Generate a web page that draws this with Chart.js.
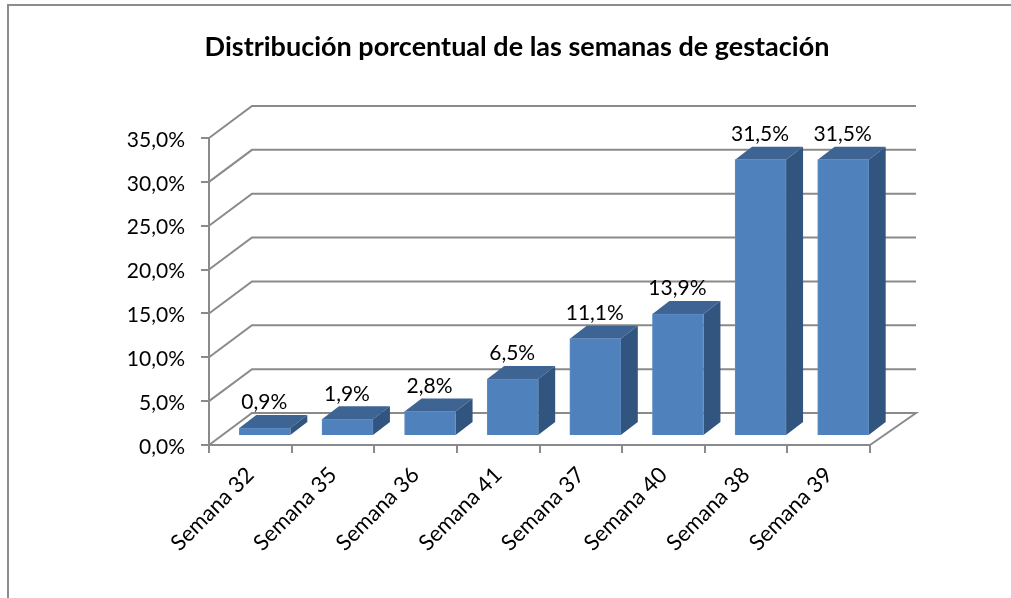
<!DOCTYPE html>
<html lang="es">
<head>
    <meta charset="UTF-8">
    <title>Semanas de gestación</title>
    <script src="https://cdn.jsdelivr.net/npm/chart.js"></script>
    <style>
        html, body { margin: 0; padding: 0; background: #fff; }
        #wrap { width: 1011px; height: 598px; }
    </style>
</head>
<body>
    <div id="wrap"><canvas id="chart" width="1011" height="598"></canvas></div>

    <script>
        const titleText = "Distribución porcentual de las semanas de gestación";
        const categories = ["Semana 32", "Semana 35", "Semana 36", "Semana 41", "Semana 37", "Semana 40", "Semana 38", "Semana 39"];
        const values = [0.9, 1.9, 2.8, 6.5, 11.1, 13.9, 31.5, 31.5];

        const GRID = "#8a8a8a";
        const FONT = "Lato, Carlito, sans-serif";
        const fmt = v => v.toFixed(1).replace(".", ",") + "%";

        // depth of the fake 3D box, and where the bars sit inside it
        const wallDx = 43, wallDy = 32;
        const barDx = 14.5, barDy = 9;
        const sideDx = 17, sideDy = 13;

        const box3d = {
            id: "box3d",
            afterLayout(chart) {
                // title is centred on the whole picture, not on the plot
                chart.titleBlock.left = 23;
                chart.titleBlock.right = 1011;
            },
            beforeDraw(chart) {
                // only the top and left edges of the frame are in the picture
                const ctx = chart.ctx;
                ctx.save();
                ctx.strokeStyle = "#8c8c8c";
                ctx.lineWidth = 2;
                ctx.beginPath();
                ctx.moveTo(8, 598);
                ctx.lineTo(8, 5);
                ctx.lineTo(1011, 5);
                ctx.stroke();
                ctx.restore();
            },
            beforeDatasetsDraw(chart) {
                const { ctx, chartArea: a, scales: { y } } = chart;
                ctx.save();
                ctx.strokeStyle = GRID;
                ctx.lineWidth = 2;
                ctx.lineJoin = "miter";
                y.ticks.forEach(t => {
                    const py = y.getPixelForValue(t.value);
                    ctx.beginPath();
                    ctx.moveTo(a.left, py);
                    ctx.lineTo(a.left + wallDx, py - wallDy);
                    ctx.lineTo(a.right + wallDx + 3, py - wallDy);
                    if (t.value === 0) ctx.lineTo(a.right, py);
                    ctx.stroke();
                });
                ctx.restore();

                // top and side of every bar, then the bars themselves, moved into the box
                const meta = chart.getDatasetMeta(0);
                ctx.save();
                ctx.translate(barDx, -barDy);
                meta.data.forEach(bar => {
                    const l = bar.x - bar.width / 2, r = bar.x + bar.width / 2;
                    ctx.fillStyle = "#3d6492";
                    ctx.beginPath();
                    ctx.moveTo(l, bar.y);
                    ctx.lineTo(l + sideDx, bar.y - sideDy);
                    ctx.lineTo(r + sideDx, bar.y - sideDy);
                    ctx.lineTo(r, bar.y);
                    ctx.closePath();
                    ctx.fill();
                    ctx.fillStyle = "#32557f";
                    ctx.beginPath();
                    ctx.moveTo(r, bar.y);
                    ctx.lineTo(r + sideDx, bar.y - sideDy);
                    ctx.lineTo(r + sideDx, bar.base - sideDy);
                    ctx.lineTo(r, bar.base);
                    ctx.closePath();
                    ctx.fill();
                });
            },
            afterDatasetsDraw(chart) {
                const ctx = chart.ctx;
                chart.getDatasetMeta(0).data.forEach((bar, i) => {
                    ctx.fillStyle = "#000";
                    ctx.font = "21px " + FONT;
                    ctx.textAlign = "center";
                    ctx.textBaseline = "middle";
                    ctx.fillText(fmt(values[i]), bar.x - 0.5, bar.y - 25.5);
                });
                ctx.restore();
            }
        };

        new Chart(document.getElementById("chart"), {
            type: "bar",
            data: {
                labels: categories,
                datasets: [{
                    data: values,
                    backgroundColor: "#4f81bd",
                    borderColor: "#5e8cc4",
                    borderWidth: 1,
                    barThickness: 51
                }]
            },
            options: {
                responsive: false,
                animation: false,
                layout: { padding: { left: 0, right: 141, top: 0, bottom: 0 } },
                plugins: {
                    legend: { display: false },
                    tooltip: { enabled: false },
                    title: {
                        display: true,
                        text: titleText,
                        color: "#000",
                        font: { family: FONT, size: 27, weight: "bold" },
                        padding: { top: 31, bottom: 74.6 }
                    }
                },
                scales: {
                    x: {
                        grid: { drawOnChartArea: false, color: GRID, lineWidth: 2, tickLength: 8 },
                        border: { color: GRID, width: 2 },
                        ticks: {
                            color: "#000",
                            font: { family: FONT, size: 22 },
                            minRotation: 45,
                            maxRotation: 45,
                            padding: 9
                        },
                        afterFit(scale) { scale.height = 153; }
                    },
                    y: {
                        min: 0,
                        max: 35,
                        grid: { drawOnChartArea: false, color: GRID, lineWidth: 2, tickLength: 8 },
                        border: { color: GRID, width: 2 },
                        ticks: {
                            stepSize: 5,
                            color: "#000",
                            font: { family: FONT, size: 21 },
                            padding: 16,
                            labelOffset: 2,
                            callback: v => fmt(v)
                        },
                        afterFit(scale) { scale.width = 209; }
                    }
                }
            },
            plugins: [box3d]
        });
    </script>
</body>
</html>
